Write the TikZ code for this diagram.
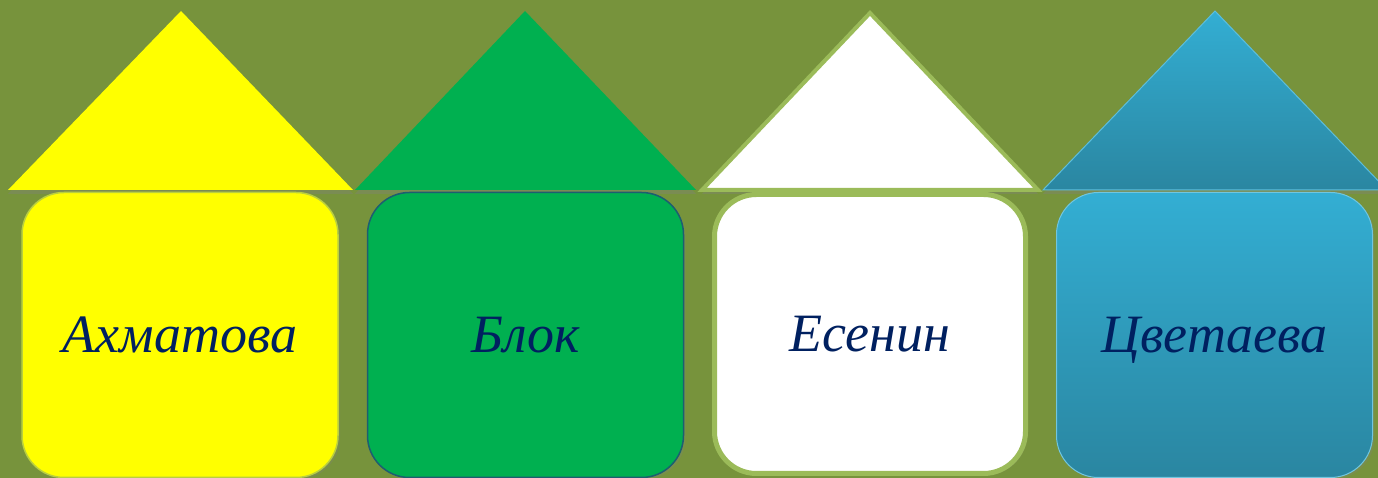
\documentclass[tikz,border=0pt]{standalone}
\usepackage{fontspec}
\setmainfont{Liberation Serif}
\usepackage{xcolor}
\usetikzlibrary{shadows}

\definecolor{olive}{HTML}{77933C}
\definecolor{lemon}{HTML}{FFFF00}
\definecolor{leaf}{HTML}{00B050}
\definecolor{sky}{HTML}{33AED3}
\definecolor{deepsky}{HTML}{2A86A1}
\definecolor{moss}{HTML}{9BBB59}
\definecolor{navy}{HTML}{002060}

\tikzset{
  wall/.style={rounded corners=42pt, minimum width=316pt, minimum height=285pt,
    inner sep=0pt, text depth=0pt, font=\itshape\fontsize{54}{60}\selectfont, text=navy,
    drop shadow={shadow xshift=2pt, shadow yshift=-2pt, opacity=0.25}},
  roof/.style={drop shadow={shadow xshift=0pt, shadow yshift=-4pt, opacity=0.35}}
}

\begin{document}
\begin{tikzpicture}[x=1pt, y=1pt]
\fill[olive] (0,0) rectangle (1378,478);
\useasboundingbox (0,0) rectangle (1378,478);

% roofs
\coordinate (top1) at (181,467);
\coordinate (top2) at (525,467);
\coordinate (top3) at (870,465);
\coordinate (top4) at (1215,467);

\fill[lemon, roof] (top1) -- ++(-173,-179) -- ++(345,0) -- cycle;
\fill[leaf, roof] (top2) -- ++(-170,-179) -- ++(341,0) -- cycle;
\filldraw[white, draw=moss, line width=4pt, line join=miter, roof] (top3) -- ++(-168,-177) -- ++(336,0) -- cycle;
\shade[top color=sky, bottom color=deepsky, draw=sky!80!white, line width=1pt, roof] (top4) -- ++(-172,-179) -- ++(344,0) -- cycle;

% walls
\node[wall, fill=lemon, draw=moss!70!lemon, line width=1.5pt] (wall1) at (180,143) {Ахматова};
\node[wall, fill=leaf, draw=deepsky!70!black, line width=1.5pt] (wall2) at (525.5,143) {Блок};
\node[wall, fill=white, draw=moss, line width=5pt, minimum width=311pt, minimum height=279pt] (wall3) at (870,144) {Есенин};
\node[wall, top color=sky, bottom color=deepsky, draw=sky!70!white, line width=1pt] (wall4) at (1214.5,143) {Цветаева};
\end{tikzpicture}
\end{document}
